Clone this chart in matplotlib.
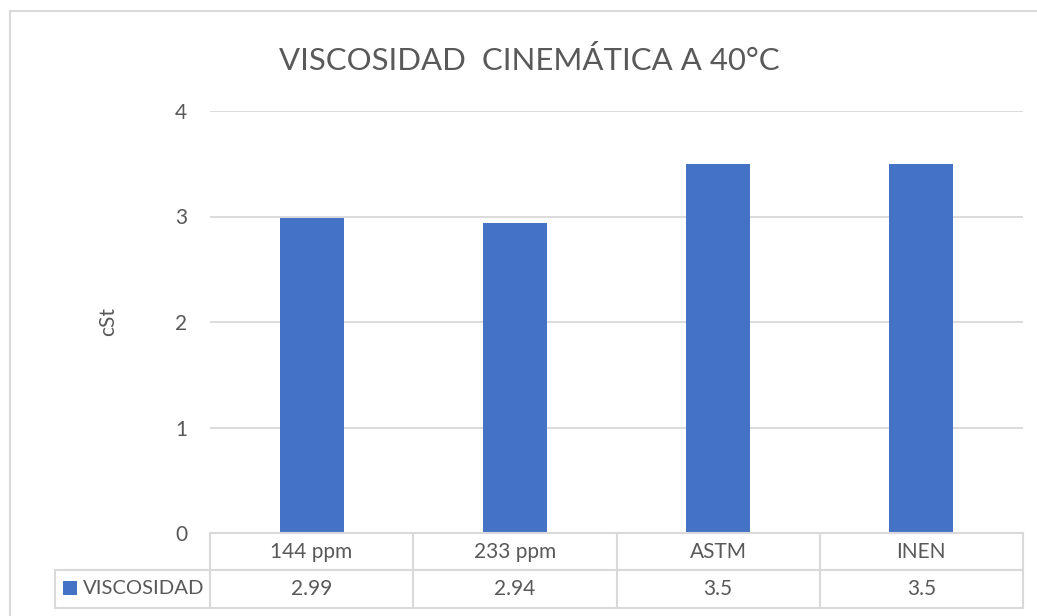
import matplotlib
matplotlib.use("Agg")
import matplotlib.pyplot as plt
from matplotlib.transforms import blended_transform_factory
from matplotlib.patches import Rectangle
from matplotlib.lines import Line2D

categories = ["144 ppm", "233 ppm", "ASTM", "INEN"]
viscosidad = [2.99, 2.94, 3.5, 3.5]
value_labels = ["2.99", "2.94", "3.5", "3.5"]
series_name = "VISCOSIDAD"
title = "VISCOSIDAD  CINEMÁTICA A 40°C"
y_label = "cSt"
y_ticks = [0, 1, 2, 3, 4]

BAR = "#4472C4"
GRID = "#D9D9D9"
TEXT = "#595959"
FS = 15

plt.rcParams["font.family"] = ["Lato", "DejaVu Sans"]

W, H = 1037, 616
fig = plt.figure(figsize=(W / 100, H / 100), dpi=100)

def fx(px):
    return px / W

def fy(py):
    return 1 - py / H

# plot area
left, right, top, bottom = 210, 1023, 111, 533
ax = fig.add_axes([fx(left), fy(bottom), fx(right) - fx(left), fy(top) - fy(bottom)])
x = list(range(len(categories)))
ax.bar(x, viscosidad, width=0.315, color=BAR, zorder=3)
ax.set_xlim(-0.5, len(categories) - 0.5)
ax.set_ylim(0, 4)
ax.set_yticks(y_ticks)
ax.set_yticklabels([str(t) for t in y_ticks])
ax.set_xticks([])
ax.yaxis.grid(True, color=GRID, linewidth=1.3, zorder=0)
for s in ax.spines.values():
    s.set_visible(False)
ax.tick_params(axis="y", length=0, pad=16.5, labelsize=FS, labelcolor=TEXT)
ax.set_ylabel(y_label, fontsize=FS, color=TEXT)
ax.yaxis.set_label_coords((118 - left) / (right - left), 0.5)

fig.text(fx(529), fy(60), title, ha="center", va="center", fontsize=22.4, color=TEXT)

# data table beneath the plot area, columns aligned with the categories
tr = blended_transform_factory(ax.transData, fig.transFigure)
n = len(categories)
col_w = (right - left) / n
key_left = -0.5 - (left - 55) / col_w
row1_top, row_sep, row2_bot = fy(533), fy(570), fy(608)

def hline(x0, x1, yv):
    fig.add_artist(Line2D([x0, x1], [yv, yv], transform=tr, color=GRID, lw=1.5))

def vline(xv, y0, y1):
    fig.add_artist(Line2D([xv, xv], [y0, y1], transform=tr, color=GRID, lw=1.5))

hline(-0.5, n - 0.5, row1_top)
hline(key_left, n - 0.5, row_sep)
hline(key_left, n - 0.5, row2_bot)
for i in range(n + 1):
    vline(i - 0.5, row1_top, row2_bot)
vline(key_left, row_sep, row2_bot)

for i, (c, v) in enumerate(zip(categories, value_labels)):
    fig.text(i, (row1_top + row_sep) / 2, c, transform=tr, ha="center", va="center",
             fontsize=FS, color=TEXT)
    fig.text(i, (row_sep + row2_bot) / 2, v, transform=tr, ha="center", va="center",
             fontsize=FS, color=TEXT)

# legend key in the series row
fig.add_artist(Rectangle((fx(63), fy(595)), fx(77) - fx(63), fy(581) - fy(595),
                         transform=fig.transFigure, facecolor=BAR, edgecolor="none"))
fig.text(fx(83), (row_sep + row2_bot) / 2, series_name, ha="left", va="center",
         fontsize=14.6, color=TEXT)

# chart area border
fig.add_artist(Line2D([fx(10), fx(10)], [fy(11), 0], transform=fig.transFigure,
                      color=GRID, lw=1.5))
fig.add_artist(Line2D([fx(10), 1], [fy(11), fy(11)], transform=fig.transFigure,
                      color=GRID, lw=1.5))

fig.savefig("out.png", dpi=100, facecolor="white")
